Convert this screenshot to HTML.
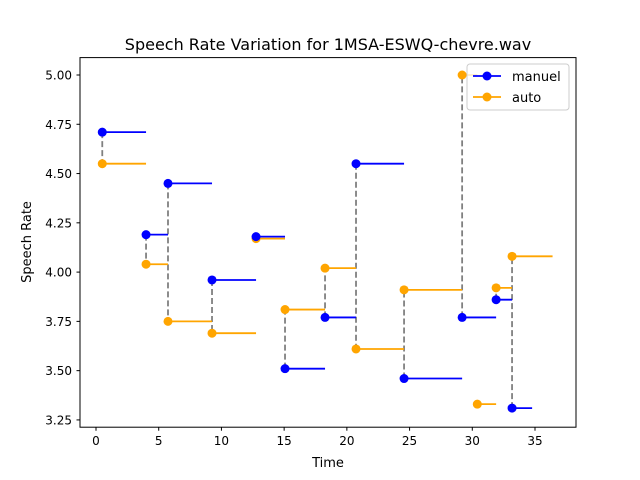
<!DOCTYPE html>
<html><head><meta charset="utf-8"><style>
body{margin:0;background:#fff}
svg{display:block;font-family:"DejaVu Sans","Liberation Sans",sans-serif}
</style></head><body>
<svg id="chart" width="640" height="480">
<rect x="0" y="0" width="640" height="480" fill="#fff"/>
<text x="328" y="50" font-size="16" text-anchor="middle">Speech Rate Variation for 1MSA-ESWQ-chevre.wav</text>
<g id="plot"></g>
<rect x="80" y="57.6" width="496" height="369.6" fill="none" stroke="#000" stroke-width="1"/>
<text x="328" y="467" font-size="13" text-anchor="middle">Time</text>
<text transform="translate(31,242) rotate(-90)" font-size="13" text-anchor="middle">Speech Rate</text>
<g>
<rect x="467" y="64" width="102" height="46" rx="3" fill="#fff" fill-opacity="0.8" stroke="#ccc"/>
<line x1="473" y1="76" x2="501" y2="76" stroke="blue" stroke-width="1.8"/><circle cx="487" cy="76" r="4.5" fill="blue"/>
<text x="512" y="81" font-size="13">manuel</text>
<line x1="473" y1="97" x2="501" y2="97" stroke="orange" stroke-width="1.8"/><circle cx="487" cy="97" r="4.5" fill="orange"/>
<text x="512" y="102" font-size="13">auto</text>
</g>
</svg>
<script>
const xTicks=[0,5,10,15,20,25,30,35];
const yTicks=[3.25,3.5,3.75,4.0,4.25,4.5,4.75,5.0];
const manStart=[0.5,3.99,5.74,9.25,12.76,15.07,18.26,20.73,24.56,29.19,31.9,33.17];
const manEnd=[3.99,5.74,9.25,12.76,15.07,18.26,20.73,24.56,29.19,31.9,33.17,34.77];
const manVal=[4.71,4.19,4.45,3.96,4.18,3.51,3.77,4.55,3.46,3.77,3.86,3.31];
const autoStart=[0.5,3.99,5.74,9.25,12.76,15.07,18.26,20.73,24.56,29.19,30.4,31.9,33.17];
const autoEnd=[3.99,5.74,9.25,12.76,15.07,18.26,20.73,24.56,29.19,30.4,31.9,33.17,36.4];
const autoVal=[4.55,4.04,3.75,3.69,4.17,3.81,4.02,3.61,3.91,5.0,3.33,3.92,4.08];
const dashX=[0.5,3.99,5.74,9.25,12.76,15.07,18.26,20.73,24.56,29.19,31.9,33.17];
const dashAuto=[4.55,4.04,3.75,3.69,4.17,3.81,4.02,3.61,3.91,5.0,3.92,4.08];

const X=v=>96+v*12.543;
const Y=v=>75+(5-v)*197.1;
const NS='http://www.w3.org/2000/svg';
const g=document.getElementById('plot');
function mk(t,a){const e=document.createElementNS(NS,t);for(const k in a)e.setAttribute(k,a[k]);g.appendChild(e);return e;}
xTicks.forEach(t=>{
  const l=mk('line',{x1:X(t),x2:X(t),y1:427.2,y2:430.7,stroke:'#000'});
  
  
  const s=mk('text',{x:X(t),y:445,'font-size':12,'text-anchor':'middle'});s.textContent=t;
  
  
});
yTicks.forEach(t=>{
  const l=mk('line',{x1:76.5,x2:80,y1:Y(t),y2:Y(t),stroke:'#000'});
  
  
  const s=mk('text',{x:72,y:Y(t)+4.5,'font-size':12,'text-anchor':'end'});s.textContent=t.toFixed(2);
  
  
});
dashX.forEach((x,i)=>{
  const l=mk('line',{x1:X(x),x2:X(x),y1:Y(manVal[i]),y2:Y(dashAuto[i]),stroke:'gray','stroke-width':1.8,'stroke-dasharray':'6,3'});
  
  
});
function series(st,en,val,col,name){
  val.forEach((v,i)=>{
    const l=mk('line',{x1:X(st[i]),x2:X(en[i]),y1:Y(v),y2:Y(v),stroke:col,'stroke-width':1.8});
    
    
    const c=mk('circle',{cx:X(st[i]),cy:Y(v),r:4.5,fill:col});
    
    
  });
}
series(autoStart,autoEnd,autoVal,'orange','auto');
series(manStart,manEnd,manVal,'blue','manuel');
</script>
</body></html>
